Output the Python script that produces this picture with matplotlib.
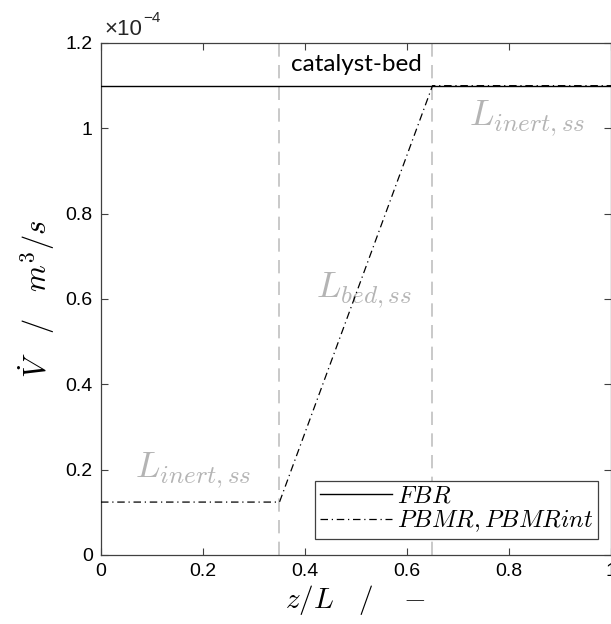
import matplotlib
matplotlib.use('Agg')
import matplotlib.pyplot as plt
from matplotlib.ticker import FuncFormatter

# profil debit volumetrik sepanjang reaktor
z_fbr = [0.0, 1.0]
v_fbr = [1.1e-4, 1.1e-4]
z_pbmr = [0.0, 0.35, 0.65, 1.0]
v_pbmr = [0.124e-4, 0.124e-4, 1.1e-4, 1.1e-4]
batas_bed = [0.35, 0.65]
xtik = [0, 0.2, 0.4, 0.6, 0.8, 1]
ytik = [0, 0.2e-4, 0.4e-4, 0.6e-4, 0.8e-4, 1.0e-4, 1.2e-4]

plt.rcParams['mathtext.fontset'] = 'cm'
plt.rcParams['font.family'] = ['Liberation Sans', 'DejaVu Sans']

fig = plt.figure(figsize=(6.11, 6.24), dpi=100)
ax = fig.add_axes([0.1653, 0.1106, 0.8347, 0.8205])

abu = '#c0c0c0'
for zb in batas_bed:
    ax.axvline(zb, color=abu, lw=1.2, ls=(0, (8, 5)), zorder=1)

ax.plot(z_fbr, v_fbr, color='black', lw=1.0, label='$FBR$', zorder=3)
ax.plot(z_pbmr, v_pbmr, color='black', lw=0.9, ls=(0, (6, 3, 1, 3)),
        label='$PBMR,PBMRint$', zorder=4)

ax.text(0.5, 1.15e-4, 'catalyst-bed', ha='center', va='center',
        fontsize=17.5, family=['Lato', 'DejaVu Sans'], color='black')
teks_abu = '#b4b4b4'
ax.text(0.18, 0.2e-4, '$L_{inert,ss}$', ha='center', va='center',
        fontsize=26, color=teks_abu)
ax.text(0.515, 0.62e-4, '$L_{bed,ss}$', ha='center', va='center',
        fontsize=26, color=teks_abu)
ax.text(0.835, 1.025e-4, '$L_{inert,ss}$', ha='center', va='center',
        fontsize=26, color=teks_abu)

ax.set_xlim(0, 1)
ax.set_ylim(0, 1.2e-4)
ax.set_xticks(xtik)
ax.xaxis.set_major_formatter(FuncFormatter(lambda v, _: f'{v:g}'))
ax.set_yticks(ytik)
ax.yaxis.set_major_formatter(FuncFormatter(lambda v, _: f'{round(v * 1e4, 2):g}'))

# faktor skala sumbu y
ax.text(0.006, 1.006, '\u00d710', transform=ax.transAxes,
        ha='left', va='bottom', fontsize=16, color='#262626')
ax.text(0.083, 1.035, '\u22124', transform=ax.transAxes,
        ha='left', va='bottom', fontsize=11, color='#262626')

ax.tick_params(direction='in', top=True, right=True, length=5,
               labelsize=14, color='#404040', pad=6)
for sp in ax.spines.values():
    sp.set_color('#404040')
    sp.set_linewidth(0.9)

ax.set_xlabel(r'$z/L\quad/\quad -$', fontsize=21, labelpad=2)
ax.set_ylabel(r'$\dot{V}\quad/\quad m^3/s$', fontsize=22, labelpad=6)

leg = ax.legend(loc='lower right', bbox_to_anchor=(0.975, 0.031),
                fancybox=False, framealpha=1, edgecolor='#404040',
                fontsize=17.5, handlelength=3.0, handletextpad=0.2,
                borderpad=0.2, labelspacing=0.05, borderaxespad=0)
leg.get_frame().set_linewidth(0.9)

fig.savefig('out.png', dpi=100)
